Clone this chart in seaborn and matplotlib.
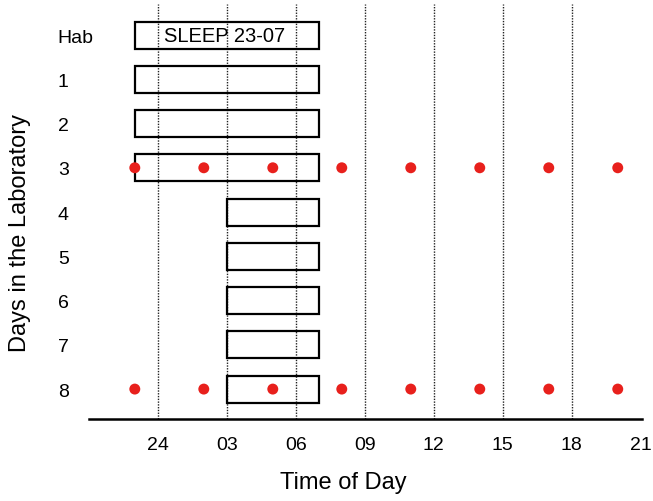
import pandas as pd
import matplotlib.pyplot as plt
import seaborn as sns

# rows of the protocol, top to bottom
days = ["Hab", "1", "2", "3", "4", "5", "6", "7", "8"]
# sleep window in hours (24 = midnight, 27 = 03 next day)
sleep_start = [23, 23, 23, 23, 27, 27, 27, 27, 27]
sleep_end = [31, 31, 31, 31, 31, 31, 31, 31, 31]

# sampling every 3 h on days 3 and 8
sample_days = ["3", "8"]
sample_hours = [23, 26, 29, 32, 35, 38, 41, 44]

tick_hours = [24, 27, 30, 33, 36, 39, 42, 45]
tick_labels = ["24", "03", "06", "09", "12", "15", "18", "21"]
grid_hours = [24, 27, 30, 33, 36, 39, 42]

sns.set_style("white")
plt.rcParams["font.family"] = ["Liberation Sans", "DejaVu Sans"]
plt.rcParams["text.color"] = "black"
plt.rcParams["axes.labelcolor"] = "black"
plt.rcParams["xtick.color"] = "black"
plt.rcParams["ytick.color"] = "black"

fig = plt.figure(figsize=(6.53, 5.02), dpi=100)
ax = fig.add_axes([0.136, 0.163, 0.847, 0.827])

row = {d: i for i, d in enumerate(days)}

for h in grid_hours:
    ax.axvline(h, color="#222222", lw=1.0, ls=(0, (1, 1)), zorder=1)

ax.barh([row[d] for d in days],
        [e - s for s, e in zip(sleep_start, sleep_end)],
        left=sleep_start, height=0.61, fill=False,
        edgecolor="black", linewidth=1.6, zorder=2)

ax.text((sleep_start[0] + sleep_end[0]) / 2 - 0.1, row["Hab"], "SLEEP 23-07",
        ha="center", va="center", fontsize=14.5, zorder=3)

dots = pd.DataFrame([(h, row[d]) for d in sample_days for h in sample_hours],
                    columns=["hour", "row"])
sns.scatterplot(data=dots, x="hour", y="row", ax=ax, color="#e8201c",
                s=62, edgecolor="none", zorder=4, clip_on=False)

ax.set_xlim(21, 45.05)
ax.set_ylim(8.68, -0.7)
ax.set_xticks(tick_hours, tick_labels)
ax.set_yticks(range(len(days)), days)
ax.tick_params(axis="x", length=0, pad=12, labelsize=14)
ax.tick_params(axis="y", length=0, pad=22.3, labelsize=14)
for t in ax.get_yticklabels():
    t.set_ha("left")

for s in ["top", "right", "left"]:
    ax.spines[s].set_visible(False)
ax.spines["bottom"].set_linewidth(1.8)
ax.spines["bottom"].set_color("black")

ax.set_xlabel("Time of Day", fontsize=17)
ax.set_ylabel("Days in the Laboratory", fontsize=17)
ax.xaxis.set_label_coords(0.46, -0.125)
ax.yaxis.set_label_coords(-0.105, 0.45)

fig.savefig("out.png", dpi=100)
